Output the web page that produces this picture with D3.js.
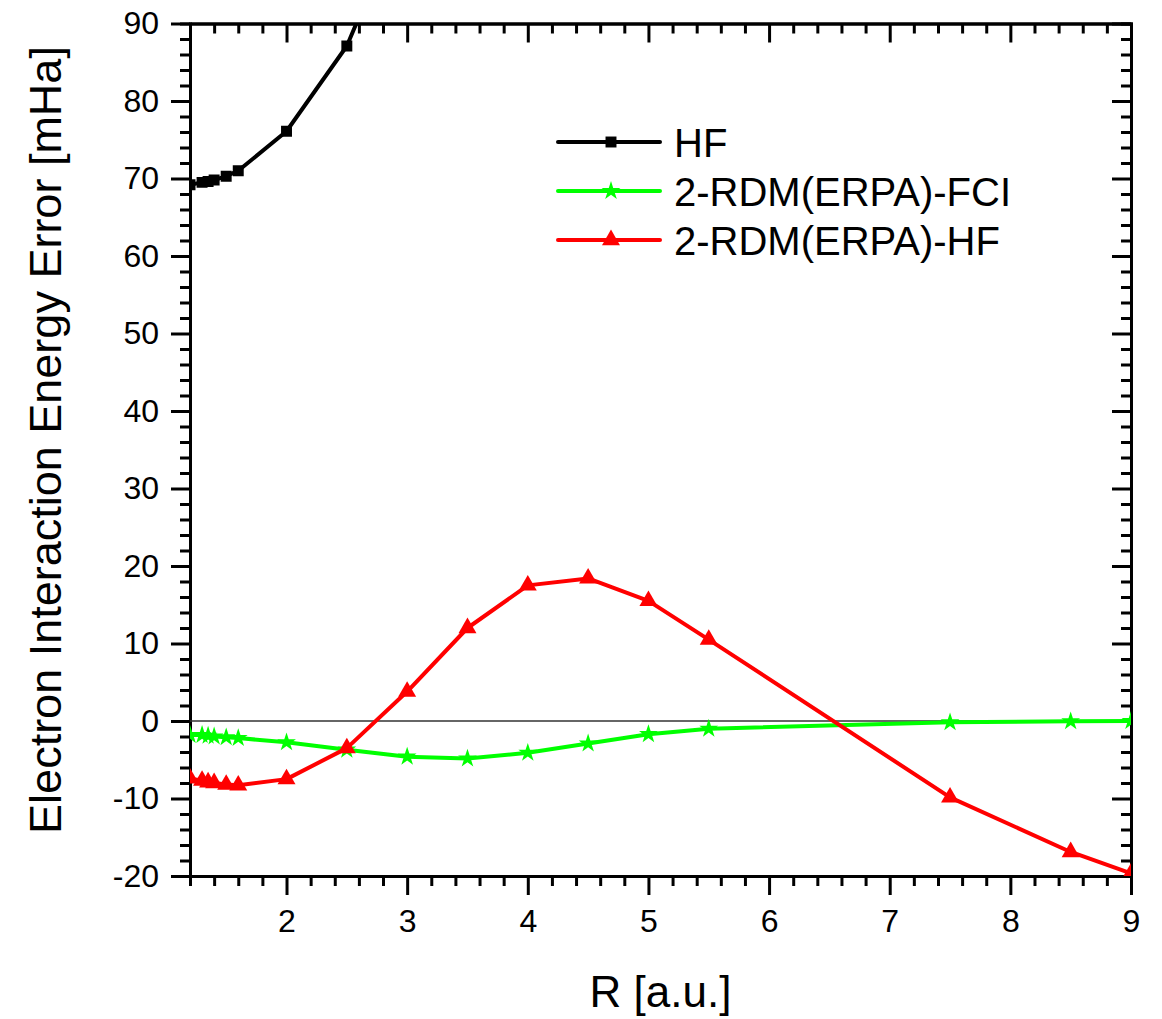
<!DOCTYPE html>
<html>
<head>
<meta charset="utf-8">
<script src="https://cdn.jsdelivr.net/npm/d3@7"></script>
<style>
    body { margin: 0; background: #fff; }
    svg text { font-family: "Liberation Sans", Arial, Helvetica, sans-serif; }
</style>
</head>
<body>
<div id="chart"></div>
<script>
// data
let rHF = [1.2, 1.3, 1.35, 1.4, 1.5, 1.6, 2.0, 2.5, 3.0];
let hfValues = [69.2, 69.5, 69.6, 69.8, 70.3, 71.0, 76.1, 87.1, 105.5];

let rRDM = [1.2, 1.3, 1.35, 1.4, 1.5, 1.6, 2.0, 2.5, 3.0, 3.5, 4.0, 4.5, 5.0, 5.5, 7.5, 8.5, 9.0];
let fciValues = [-1.8, -1.8, -1.9, -2.0, -2.1, -2.2, -2.75, -3.7, -4.6, -4.85, -4.1, -2.9, -1.7, -1.0, -0.17, -0.04, 0.0];
let hfRefValues = [-7.4, -7.7, -7.9, -8.0, -8.2, -8.3, -7.5, -3.5, 3.8, 12.0, 17.5, 18.4, 15.5, 10.5, -9.85, -16.9, -19.65];

let seriesNames = ["HF", "2-RDM(ERPA)-FCI", "2-RDM(ERPA)-HF"];
let seriesColors = ["#000000", "#00ff00", "#ff0000"];
let xTickValues = [2, 3, 4, 5, 6, 7, 8, 9];
let yTickValues = [-20, -10, 0, 10, 20, 30, 40, 50, 60, 70, 80, 90];

const width = 1162, height = 1019;
const margin = { left: 190, right: 31, top: 23.5, bottom: 143 };
const plotW = width - margin.left - margin.right;
const plotH = height - margin.top - margin.bottom;

const svg = d3.select("#chart").append("svg")
    .attr("width", width)
    .attr("height", height);

const x = d3.scaleLinear().domain([1.2, 9]).range([0, plotW]);
const y = d3.scaleLinear().domain([-20, 90]).range([plotH, 0]);

const g = svg.append("g").attr("transform", `translate(${margin.left},${margin.top})`);

g.append("clipPath").attr("id", "plotClip")
    .append("rect").attr("width", plotW).attr("height", plotH);

// minor tick positions
let xMinor = d3.range(1.2, 9.001, 0.2).map(v => Math.round(v * 10) / 10).filter(v => !xTickValues.includes(v));
let yMinor = d3.range(-20, 91, 2).filter(v => !yTickValues.includes(v));

function styleAxis(sel) {
    sel.selectAll("path").attr("stroke", "#000").attr("stroke-width", 3);
    sel.selectAll("line").attr("stroke", "#000").attr("stroke-width", 3);
    sel.selectAll("text").attr("fill", "#000").style("font-size", "32px");
}

// bottom axis, ticks outward
const bottomMinor = g.append("g").attr("transform", `translate(0,${plotH})`)
    .call(d3.axisBottom(x).tickValues(xMinor).tickSize(10).tickFormat(""));
styleAxis(bottomMinor);
const bottomAxis = g.append("g").attr("transform", `translate(0,${plotH})`)
    .call(d3.axisBottom(x).tickValues(xTickValues).tickSize(19).tickSizeOuter(0).tickPadding(14).tickFormat(d => String(d)));
styleAxis(bottomAxis);

// left axis, ticks outward
const leftMinor = g.append("g")
    .call(d3.axisLeft(y).tickValues(yMinor).tickSize(10).tickFormat(""));
styleAxis(leftMinor);
const leftAxis = g.append("g")
    .call(d3.axisLeft(y).tickValues(yTickValues).tickSize(19).tickSizeOuter(0).tickPadding(12).tickFormat(d => String(d)));
styleAxis(leftAxis);

// top axis, ticks pointing in
const topMinor = g.append("g")
    .call(d3.axisTop(x).tickValues(xMinor).tickSize(-10).tickFormat(""));
styleAxis(topMinor);
const topAxis = g.append("g")
    .call(d3.axisTop(x).tickValues(xTickValues).tickSize(-19).tickSizeOuter(0).tickFormat(""));
styleAxis(topAxis);

// right axis, ticks pointing in
const rightMinor = g.append("g").attr("transform", `translate(${plotW},0)`)
    .call(d3.axisRight(y).tickValues(yMinor).tickSize(-10).tickFormat(""));
styleAxis(rightMinor);
const rightAxis = g.append("g").attr("transform", `translate(${plotW},0)`)
    .call(d3.axisRight(y).tickValues(yTickValues).tickSize(-19).tickSizeOuter(0).tickFormat(""));
styleAxis(rightAxis);

// zero line
g.append("line")
    .attr("x1", 0).attr("x2", plotW)
    .attr("y1", y(0)).attr("y2", y(0))
    .attr("stroke", "#333").attr("stroke-width", 1.5);

// series
let series = [
    { name: seriesNames[0], color: seriesColors[0], xs: rHF, ys: hfValues, symbol: d3.symbolSquare, size: 120 },
    { name: seriesNames[1], color: seriesColors[1], xs: rRDM, ys: fciValues, symbol: d3.symbolStar, size: 110 },
    { name: seriesNames[2], color: seriesColors[2], xs: rRDM, ys: hfRefValues, symbol: d3.symbolTriangle, size: 140 }
];

const line = d3.line().x(d => x(d[0])).y(d => y(d[1]));
const plot = g.append("g").attr("clip-path", "url(#plotClip)");

series.forEach(s => {
    let pts = s.xs.map((v, i) => [v, s.ys[i]]);
    plot.append("path")
        .datum(pts)
        .attr("d", line)
        .attr("fill", "none")
        .attr("stroke", s.color)
        .attr("stroke-width", 4)
        .attr("stroke-linejoin", "round");
    plot.selectAll(null)
        .data(pts)
        .enter()
        .append("path")
        .attr("d", d3.symbol().type(s.symbol).size(s.size))
        .attr("transform", d => `translate(${x(d[0])},${y(d[1])})`)
        .attr("fill", s.color);
});

// legend
const legend = svg.append("g").attr("transform", "translate(558,142)");
series.forEach((s, i) => {
    const row = legend.append("g").attr("transform", `translate(0,${i * 49})`);
    row.append("line")
        .attr("x1", 0).attr("x2", 102)
        .attr("stroke", s.color).attr("stroke-width", 4).attr("stroke-linecap", "round");
    row.append("path")
        .attr("d", d3.symbol().type(s.symbol).size(s.size))
        .attr("transform", "translate(53,0)")
        .attr("fill", s.color);
    row.append("text")
        .attr("x", 116).attr("y", 15)
        .style("font-size", "40px")
        .text(s.name);
});

// axis titles
svg.append("text")
    .attr("x", margin.left + plotW / 2)
    .attr("y", 1007)
    .attr("text-anchor", "middle")
    .style("font-size", "44px")
    .text("R [a.u.]");

svg.append("text")
    .attr("transform", "translate(61,440) rotate(-90)")
    .attr("text-anchor", "middle")
    .style("font-size", "45px")
    .text("Electron Interaction Energy Error [mHa]");
</script>
</body>
</html>
